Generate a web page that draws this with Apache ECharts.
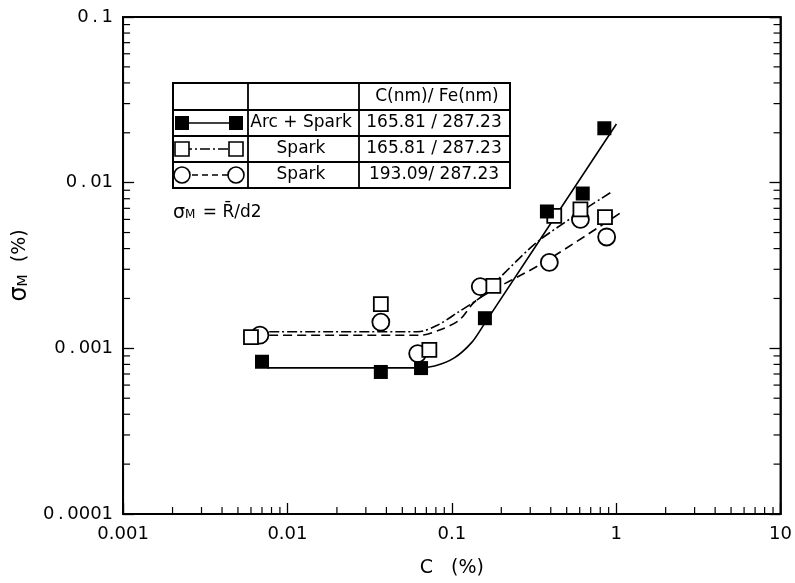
<!DOCTYPE html>
<html><head><meta charset="utf-8">
<script src="https://cdn.jsdelivr.net/npm/echarts@6/dist/echarts.min.js"></script>
<style>html,body{margin:0;padding:0;background:#fff}#c{width:795px;height:583px}</style>
</head><body><div id="c"></div>
<script>
// ---- data ----
const arcSparkC = [0.007, 0.037, 0.065, 0.159, 0.379, 0.626, 0.847];
const arcSparkS = [0.00083, 0.00072, 0.00076, 0.00152, 0.0067, 0.0086, 0.0213];
const spark1C = [0.006, 0.037, 0.073, 0.179, 0.42, 0.606, 0.855];
const spark1S = [0.00117, 0.00185, 0.00098, 0.00238, 0.0063, 0.0069, 0.0062];
const spark2C = [0.0068, 0.037, 0.062, 0.149, 0.392, 0.606, 0.875];
const spark2S = [0.0012, 0.00144, 0.00093, 0.00236, 0.0033, 0.006, 0.0047];
// fitted curves
const fitArcC = [0.00757, 0.0597, 0.0786, 0.1035, 0.1327, 0.156, 1.003];
const fitArcS = [0.000762, 0.000762, 0.000783, 0.000875, 0.00109, 0.00138, 0.0226];
const fitSpark1C = [0.00775, 0.0622, 0.0819, 0.108, 0.150, 0.198, 0.343, 0.937];
const fitSpark1S = [0.00126, 0.00126, 0.00138, 0.00164, 0.00204, 0.0027, 0.00451, 0.00879];
const fitSpark2C = [0.00775, 0.064, 0.0842, 0.111, 0.142, 0.357, 1.07];
const fitSpark2S = [0.0012, 0.0012, 0.00129, 0.00148, 0.00196, 0.00327, 0.0066];
// axes
const xMin = 0.001, xMax = 10, yMin = 0.0001, yMax = 0.1;
const xDecades = [0.001, 0.01, 0.1, 1];
const yDecades = [0.0001, 0.001, 0.01];
const minorMult = [2, 3, 4, 5, 6, 7, 8, 9];
// legend table text
const headerText = 'C(nm)/ Fe(nm)';
const rowNames = ['Arc + Spark', 'Spark', 'Spark'];
const rowLines = ['165.81 / 287.23', '165.81 / 287.23', '193.09/ 287.23'];

const zip = (a, b) => a.map((v, i) => [v, b[i]]);
const FONT = 'DejaVu Sans';

const minorData = [];
xDecades.forEach(d => minorMult.forEach(m => minorData.push([+(d * m).toPrecision(3), yMin, 0])));
yDecades.forEach(d => minorMult.forEach(m => {
  minorData.push([xMin, +(d * m).toPrecision(3), 1]);
  minorData.push([xMax, +(d * m).toPrecision(3), 2]);
}));

const chart = echarts.init(document.getElementById('c'), null, {renderer: 'canvas'});
const fmt = v => String(+(+v).toPrecision(1));
const fmtY = v => fmt(v).replace('.', '\u2009.\u2009');

const T = {x0: 173, x1: 248, x2: 359, x3: 510, y: [83, 110, 136, 162, 188]};
const rowMid = i => (T.y[i] + T.y[i + 1]) / 2;
const graphics = [];
graphics.push({type: 'rect', shape: {x: T.x0, y: T.y[0], width: T.x3 - T.x0, height: T.y[4] - T.y[0]},
  style: {fill: '#fff', stroke: '#000', lineWidth: 2}, z: 10});
[1, 2, 3].forEach(i => graphics.push({type: 'line', shape: {x1: T.x0, y1: T.y[i], x2: T.x3, y2: T.y[i]},
  style: {stroke: '#000', lineWidth: 1.8}, z: 11}));
[T.x1, T.x2].forEach(x => graphics.push({type: 'line', shape: {x1: x, y1: T.y[0], x2: x, y2: T.y[4]},
  style: {stroke: '#000', lineWidth: 1.8}, z: 11}));
const txt = (s, x, y, align) => ({type: 'text', x: x, y: y, z: 12,
  style: {text: s, font: '17px "' + FONT + '"', fill: '#000', align: align || 'center', verticalAlign: 'middle'}});
graphics.push(txt(headerText, 437, rowMid(0)));
rowNames.forEach((s, i) => graphics.push(txt(s, 301, rowMid(i + 1))));
rowLines.forEach((s, i) => graphics.push(txt(s, 434, rowMid(i + 1))));
// legend symbols
const lx1 = 182, lx2 = 236;
graphics.push({type: 'line', shape: {x1: lx1, y1: rowMid(1), x2: lx2, y2: rowMid(1)}, style: {stroke: '#000', lineWidth: 1.5}, z: 12});
graphics.push({type: 'rect', shape: {x: lx1 - 7, y: rowMid(1) - 7, width: 14, height: 14}, style: {fill: '#000'}, z: 13});
graphics.push({type: 'rect', shape: {x: lx2 - 7, y: rowMid(1) - 7, width: 14, height: 14}, style: {fill: '#000'}, z: 13});
graphics.push({type: 'line', shape: {x1: lx1, y1: rowMid(2), x2: lx2, y2: rowMid(2)}, style: {stroke: '#000', lineWidth: 1.5, lineDash: [10, 3, 2, 3]}, z: 12});
graphics.push({type: 'rect', shape: {x: lx1 - 7, y: rowMid(2) - 7, width: 14, height: 14}, style: {fill: '#fff', stroke: '#000', lineWidth: 1.6}, z: 13});
graphics.push({type: 'rect', shape: {x: lx2 - 7, y: rowMid(2) - 7, width: 14, height: 14}, style: {fill: '#fff', stroke: '#000', lineWidth: 1.6}, z: 13});
graphics.push({type: 'line', shape: {x1: lx1, y1: rowMid(3), x2: lx2, y2: rowMid(3)}, style: {stroke: '#000', lineWidth: 1.5, lineDash: [6, 4]}, z: 12});
graphics.push({type: 'circle', shape: {cx: lx1, cy: rowMid(3), r: 8}, style: {fill: '#fff', stroke: '#000', lineWidth: 1.6}, z: 13});
graphics.push({type: 'circle', shape: {cx: lx2, cy: rowMid(3), r: 8}, style: {fill: '#fff', stroke: '#000', lineWidth: 1.6}, z: 13});
// formula note
graphics.push({type: 'text', x: 173, y: 213, z: 12, style: {
  text: '{s|σ}{m|M} = R\u0304/d2', fill: '#000', verticalAlign: 'middle',
  rich: {s: {fontFamily: FONT, fontSize: 19, fill: '#000'}, m: {fontFamily: FONT, fontSize: 12, fill: '#000', padding: [4, 2, 0, 0]}},
  font: '17px "' + FONT + '"'}});

const axisCommon = {
  type: 'log', logBase: 10,
  axisLine: {show: true, lineStyle: {color: '#000', width: 2}},
  axisTick: {show: true, inside: true, length: 11, lineStyle: {color: '#000', width: 1.3}},
  splitLine: {show: false},
  minorTick: {show: false}
};

chart.setOption({
  animation: false,
  backgroundColor: '#fff',
  grid: {left: 123, right: 3, top: 17, bottom: 69, show: true, borderColor: '#000', borderWidth: 2, backgroundColor: 'transparent'},
  xAxis: Object.assign({}, axisCommon, {
    min: xMin, max: xMax,
    axisLabel: {formatter: fmt, color: '#000', fontFamily: FONT, fontSize: 18, margin: 11},
    name: 'C   (%)', nameLocation: 'middle', nameGap: 45,
    nameTextStyle: {color: '#000', fontFamily: FONT, fontSize: 19}
  }),
  yAxis: [
    Object.assign({}, axisCommon, {
      min: yMin, max: yMax,
      axisLabel: {formatter: fmtY, color: '#000', fontFamily: FONT, fontSize: 18, margin: 10},
      name: '{s|σ}{m|M}  (%)', nameLocation: 'middle', nameGap: 90, nameRotate: 90,
      nameTextStyle: {color: '#000', fontFamily: FONT, fontSize: 19,
        rich: {s: {fontFamily: FONT, fontSize: 24, color: '#000'}, m: {fontFamily: FONT, fontSize: 14, color: '#000', padding: [6, 0, 0, 0]}}}
    }),
    Object.assign({}, axisCommon, {
      min: yMin, max: yMax, position: 'right',
      axisLine: {show: true, lineStyle: {color: '#000', width: 1.5}},
      axisLabel: {show: false}
    })
  ],
  graphic: graphics,
  series: [
    {type: 'custom', data: minorData, silent: true, clip: false, z: 1,
      renderItem: function (params, api) {
        const k = api.value(2);
        const p = api.coord([api.value(0), api.value(1)]);
        let sh;
        if (k === 0) sh = {x1: p[0], y1: p[1], x2: p[0], y2: p[1] - 7};
        else if (k === 1) sh = {x1: p[0], y1: p[1], x2: p[0] + 7, y2: p[1]};
        else sh = {x1: p[0], y1: p[1], x2: p[0] - 7, y2: p[1]};
        return {type: 'line', shape: sh, style: {stroke: '#000', lineWidth: 1.2}};
      }},
    {type: 'line', data: zip(fitArcC, fitArcS), smooth: 0.3, symbol: 'none', z: 2,
      lineStyle: {color: '#000', width: 1.6}},
    {type: 'line', data: zip(fitSpark1C, fitSpark1S), smooth: 0.3, symbol: 'none', z: 2,
      lineStyle: {color: '#000', width: 1.6, type: [10, 3, 2, 3]}},
    {type: 'line', data: zip(fitSpark2C, fitSpark2S), smooth: 0.3, symbol: 'none', z: 2,
      lineStyle: {color: '#000', width: 1.6, type: [9, 5]}},
    {type: 'scatter', name: 'Arc + Spark', data: zip(arcSparkC, arcSparkS), symbol: 'rect', symbolSize: 14, z: 5,
      itemStyle: {color: '#000', opacity: 1}},
    {type: 'scatter', name: 'Spark 165.81', data: zip(spark1C, spark1S), symbol: 'rect', symbolSize: 14, z: 4,
      itemStyle: {color: '#fff', borderColor: '#000', borderWidth: 1.8, opacity: 1}},
    {type: 'scatter', name: 'Spark 193.09', data: zip(spark2C, spark2S), symbol: 'circle', symbolSize: 17, z: 3,
      itemStyle: {color: '#fff', borderColor: '#000', borderWidth: 1.8, opacity: 1}}
  ]
});
</script>
</body></html>
